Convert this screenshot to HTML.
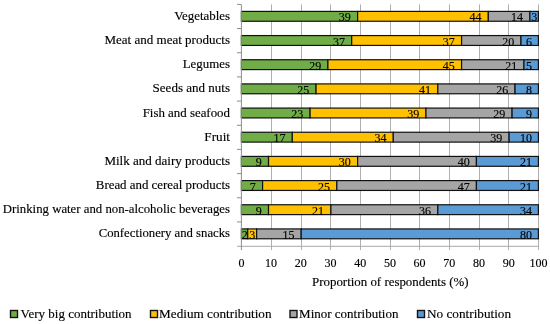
<!DOCTYPE html><html><head><meta charset="utf-8"><style>html,body{margin:0;padding:0;background:#fff;width:550px;height:324px;overflow:hidden}svg{display:block;will-change:transform}text{font-family:"Liberation Serif",serif;fill:#000;stroke:#000;stroke-width:0.15px}</style></head><body>
<svg width="550" height="324" viewBox="0 0 550 324">
<line x1="271.5" y1="4.4" x2="271.5" y2="250" stroke="#b0b0b0" stroke-width="1"/>
<line x1="301.5" y1="4.4" x2="301.5" y2="250" stroke="#b0b0b0" stroke-width="1"/>
<line x1="330.5" y1="4.4" x2="330.5" y2="250" stroke="#b0b0b0" stroke-width="1"/>
<line x1="360.5" y1="4.4" x2="360.5" y2="250" stroke="#b0b0b0" stroke-width="1"/>
<line x1="390.5" y1="4.4" x2="390.5" y2="250" stroke="#b0b0b0" stroke-width="1"/>
<line x1="419.5" y1="4.4" x2="419.5" y2="250" stroke="#b0b0b0" stroke-width="1"/>
<line x1="449.5" y1="4.4" x2="449.5" y2="250" stroke="#b0b0b0" stroke-width="1"/>
<line x1="479.5" y1="4.4" x2="479.5" y2="250" stroke="#b0b0b0" stroke-width="1"/>
<line x1="508.5" y1="4.4" x2="508.5" y2="250" stroke="#b0b0b0" stroke-width="1"/>
<line x1="538.5" y1="4.4" x2="538.5" y2="250" stroke="#b0b0b0" stroke-width="1"/>
<line x1="237" y1="246.3" x2="539" y2="246.3" stroke="#a8a8a8" stroke-width="1"/>
<line x1="237" y1="4.4" x2="241" y2="4.4" stroke="#8c8c8c" stroke-width="1"/>
<line x1="237" y1="28.57" x2="241" y2="28.57" stroke="#8c8c8c" stroke-width="1"/>
<line x1="237" y1="52.74" x2="241" y2="52.74" stroke="#8c8c8c" stroke-width="1"/>
<line x1="237" y1="76.91" x2="241" y2="76.91" stroke="#8c8c8c" stroke-width="1"/>
<line x1="237" y1="101.08" x2="241" y2="101.08" stroke="#8c8c8c" stroke-width="1"/>
<line x1="237" y1="125.25" x2="241" y2="125.25" stroke="#8c8c8c" stroke-width="1"/>
<line x1="237" y1="149.42" x2="241" y2="149.42" stroke="#8c8c8c" stroke-width="1"/>
<line x1="237" y1="173.59" x2="241" y2="173.59" stroke="#8c8c8c" stroke-width="1"/>
<line x1="237" y1="197.76" x2="241" y2="197.76" stroke="#8c8c8c" stroke-width="1"/>
<line x1="237" y1="221.93" x2="241" y2="221.93" stroke="#8c8c8c" stroke-width="1"/>
<rect x="241.40" y="11.40" width="116.23" height="9.85" fill="#70ad47" stroke="#111" stroke-width="1.2"/>
<rect x="357.63" y="11.40" width="130.68" height="9.85" fill="#ffc000" stroke="#111" stroke-width="1.2"/>
<rect x="488.31" y="11.40" width="41.58" height="9.85" fill="#a5a5a5" stroke="#111" stroke-width="1.2"/>
<rect x="529.89" y="11.40" width="8.51" height="9.85" fill="#5b9bd5" stroke="#111" stroke-width="1.2"/>
<rect x="241.40" y="35.57" width="110.29" height="9.85" fill="#70ad47" stroke="#111" stroke-width="1.2"/>
<rect x="351.69" y="35.57" width="109.89" height="9.85" fill="#ffc000" stroke="#111" stroke-width="1.2"/>
<rect x="461.58" y="35.57" width="59.40" height="9.85" fill="#a5a5a5" stroke="#111" stroke-width="1.2"/>
<rect x="520.98" y="35.57" width="17.42" height="9.85" fill="#5b9bd5" stroke="#111" stroke-width="1.2"/>
<rect x="241.40" y="59.74" width="86.53" height="9.85" fill="#70ad47" stroke="#111" stroke-width="1.2"/>
<rect x="327.93" y="59.74" width="133.65" height="9.85" fill="#ffc000" stroke="#111" stroke-width="1.2"/>
<rect x="461.58" y="59.74" width="62.37" height="9.85" fill="#a5a5a5" stroke="#111" stroke-width="1.2"/>
<rect x="523.95" y="59.74" width="14.45" height="9.85" fill="#5b9bd5" stroke="#111" stroke-width="1.2"/>
<rect x="241.40" y="83.91" width="74.65" height="9.85" fill="#70ad47" stroke="#111" stroke-width="1.2"/>
<rect x="316.05" y="83.91" width="121.77" height="9.85" fill="#ffc000" stroke="#111" stroke-width="1.2"/>
<rect x="437.82" y="83.91" width="77.22" height="9.85" fill="#a5a5a5" stroke="#111" stroke-width="1.2"/>
<rect x="515.04" y="83.91" width="23.36" height="9.85" fill="#5b9bd5" stroke="#111" stroke-width="1.2"/>
<rect x="241.40" y="108.08" width="68.71" height="9.85" fill="#70ad47" stroke="#111" stroke-width="1.2"/>
<rect x="310.11" y="108.08" width="115.83" height="9.85" fill="#ffc000" stroke="#111" stroke-width="1.2"/>
<rect x="425.94" y="108.08" width="86.13" height="9.85" fill="#a5a5a5" stroke="#111" stroke-width="1.2"/>
<rect x="512.07" y="108.08" width="26.33" height="9.85" fill="#5b9bd5" stroke="#111" stroke-width="1.2"/>
<rect x="241.40" y="132.25" width="50.89" height="9.85" fill="#70ad47" stroke="#111" stroke-width="1.2"/>
<rect x="292.29" y="132.25" width="100.98" height="9.85" fill="#ffc000" stroke="#111" stroke-width="1.2"/>
<rect x="393.27" y="132.25" width="115.83" height="9.85" fill="#a5a5a5" stroke="#111" stroke-width="1.2"/>
<rect x="509.10" y="132.25" width="29.30" height="9.85" fill="#5b9bd5" stroke="#111" stroke-width="1.2"/>
<rect x="241.40" y="156.42" width="27.13" height="9.85" fill="#70ad47" stroke="#111" stroke-width="1.2"/>
<rect x="268.53" y="156.42" width="89.10" height="9.85" fill="#ffc000" stroke="#111" stroke-width="1.2"/>
<rect x="357.63" y="156.42" width="118.80" height="9.85" fill="#a5a5a5" stroke="#111" stroke-width="1.2"/>
<rect x="476.43" y="156.42" width="61.97" height="9.85" fill="#5b9bd5" stroke="#111" stroke-width="1.2"/>
<rect x="241.40" y="180.59" width="21.19" height="9.85" fill="#70ad47" stroke="#111" stroke-width="1.2"/>
<rect x="262.59" y="180.59" width="74.25" height="9.85" fill="#ffc000" stroke="#111" stroke-width="1.2"/>
<rect x="336.84" y="180.59" width="139.59" height="9.85" fill="#a5a5a5" stroke="#111" stroke-width="1.2"/>
<rect x="476.43" y="180.59" width="61.97" height="9.85" fill="#5b9bd5" stroke="#111" stroke-width="1.2"/>
<rect x="241.40" y="204.76" width="27.13" height="9.85" fill="#70ad47" stroke="#111" stroke-width="1.2"/>
<rect x="268.53" y="204.76" width="62.37" height="9.85" fill="#ffc000" stroke="#111" stroke-width="1.2"/>
<rect x="330.90" y="204.76" width="106.92" height="9.85" fill="#a5a5a5" stroke="#111" stroke-width="1.2"/>
<rect x="437.82" y="204.76" width="100.58" height="9.85" fill="#5b9bd5" stroke="#111" stroke-width="1.2"/>
<rect x="241.40" y="228.93" width="6.34" height="9.85" fill="#70ad47" stroke="#111" stroke-width="1.2"/>
<rect x="247.74" y="228.93" width="8.91" height="9.85" fill="#ffc000" stroke="#111" stroke-width="1.2"/>
<rect x="256.65" y="228.93" width="44.55" height="9.85" fill="#a5a5a5" stroke="#111" stroke-width="1.2"/>
<rect x="301.20" y="228.93" width="237.20" height="9.85" fill="#5b9bd5" stroke="#111" stroke-width="1.2"/>
<line x1="241.4" y1="4.4" x2="241.4" y2="250" stroke="#8f8f8f" stroke-width="1"/>
<text x="350.83" y="21.40" font-size="12" text-anchor="end">39</text>
<text x="481.51" y="21.40" font-size="12" text-anchor="end">44</text>
<text x="523.09" y="21.40" font-size="12" text-anchor="end">14</text>
<text x="534.35" y="21.40" font-size="12" text-anchor="middle">3</text>
<text x="344.89" y="45.57" font-size="12" text-anchor="end">37</text>
<text x="454.78" y="45.57" font-size="12" text-anchor="end">37</text>
<text x="514.18" y="45.57" font-size="12" text-anchor="end">20</text>
<text x="532.00" y="45.57" font-size="12" text-anchor="end">6</text>
<text x="321.13" y="69.74" font-size="12" text-anchor="end">29</text>
<text x="454.78" y="69.74" font-size="12" text-anchor="end">45</text>
<text x="517.15" y="69.74" font-size="12" text-anchor="end">21</text>
<text x="532.00" y="69.74" font-size="12" text-anchor="end">5</text>
<text x="309.25" y="93.91" font-size="12" text-anchor="end">25</text>
<text x="431.02" y="93.91" font-size="12" text-anchor="end">41</text>
<text x="508.24" y="93.91" font-size="12" text-anchor="end">26</text>
<text x="532.00" y="93.91" font-size="12" text-anchor="end">8</text>
<text x="303.31" y="118.08" font-size="12" text-anchor="end">23</text>
<text x="419.14" y="118.08" font-size="12" text-anchor="end">39</text>
<text x="505.27" y="118.08" font-size="12" text-anchor="end">29</text>
<text x="532.00" y="118.08" font-size="12" text-anchor="end">9</text>
<text x="285.49" y="142.25" font-size="12" text-anchor="end">17</text>
<text x="386.47" y="142.25" font-size="12" text-anchor="end">34</text>
<text x="502.30" y="142.25" font-size="12" text-anchor="end">39</text>
<text x="532.00" y="142.25" font-size="12" text-anchor="end">10</text>
<text x="261.73" y="166.42" font-size="12" text-anchor="end">9</text>
<text x="350.83" y="166.42" font-size="12" text-anchor="end">30</text>
<text x="469.63" y="166.42" font-size="12" text-anchor="end">40</text>
<text x="532.00" y="166.42" font-size="12" text-anchor="end">21</text>
<text x="255.79" y="190.59" font-size="12" text-anchor="end">7</text>
<text x="330.04" y="190.59" font-size="12" text-anchor="end">25</text>
<text x="469.63" y="190.59" font-size="12" text-anchor="end">47</text>
<text x="532.00" y="190.59" font-size="12" text-anchor="end">21</text>
<text x="261.73" y="214.76" font-size="12" text-anchor="end">9</text>
<text x="324.10" y="214.76" font-size="12" text-anchor="end">21</text>
<text x="431.02" y="214.76" font-size="12" text-anchor="end">36</text>
<text x="532.00" y="214.76" font-size="12" text-anchor="end">34</text>
<text x="244.77" y="238.93" font-size="12" text-anchor="middle">2</text>
<text x="252.19" y="238.93" font-size="12" text-anchor="middle">3</text>
<text x="294.40" y="238.93" font-size="12" text-anchor="end">15</text>
<text x="532.00" y="238.93" font-size="12" text-anchor="end">80</text>
<text x="230" y="19.90" font-size="12.9" text-anchor="end">Vegetables</text>
<text x="230" y="44.07" font-size="12.9" text-anchor="end" textLength="125.6" lengthAdjust="spacingAndGlyphs">Meat and meat products</text>
<text x="230" y="68.24" font-size="12.9" text-anchor="end">Legumes</text>
<text x="230" y="92.41" font-size="12.9" text-anchor="end" textLength="77.4" lengthAdjust="spacingAndGlyphs">Seeds and nuts</text>
<text x="230" y="116.58" font-size="12.9" text-anchor="end">Fish and seafood</text>
<text x="230" y="140.75" font-size="12.9" text-anchor="end" textLength="25.7" lengthAdjust="spacingAndGlyphs">Fruit</text>
<text x="230" y="164.92" font-size="12.9" text-anchor="end" textLength="125.6" lengthAdjust="spacingAndGlyphs">Milk and dairy products</text>
<text x="230" y="189.09" font-size="12.9" text-anchor="end">Bread and cereal products</text>
<text x="230" y="213.26" font-size="12.9" text-anchor="end" textLength="227.2" lengthAdjust="spacingAndGlyphs">Drinking water and non-alcoholic beverages</text>
<text x="230" y="237.43" font-size="12.9" text-anchor="end" textLength="131.3" lengthAdjust="spacingAndGlyphs">Confectionery and snacks</text>
<text x="241.40" y="266.9" font-size="12" text-anchor="middle">0</text>
<text x="271.10" y="266.9" font-size="12" text-anchor="middle">10</text>
<text x="300.80" y="266.9" font-size="12" text-anchor="middle">20</text>
<text x="330.50" y="266.9" font-size="12" text-anchor="middle">30</text>
<text x="360.20" y="266.9" font-size="12" text-anchor="middle">40</text>
<text x="389.90" y="266.9" font-size="12" text-anchor="middle">50</text>
<text x="419.60" y="266.9" font-size="12" text-anchor="middle">60</text>
<text x="449.30" y="266.9" font-size="12" text-anchor="middle">70</text>
<text x="479.00" y="266.9" font-size="12" text-anchor="middle">80</text>
<text x="508.70" y="266.9" font-size="12" text-anchor="middle">90</text>
<text x="538.40" y="266.9" font-size="12" text-anchor="middle">100</text>
<text x="390.3" y="285.9" font-size="12.9" text-anchor="middle">Proportion of respondents (%)</text>
<rect x="10.5" y="310.5" width="7" height="7" fill="#70ad47" stroke="#141414" stroke-width="1.4"/>
<text x="20.60" y="318.2" font-size="12.9" textLength="111.0" lengthAdjust="spacingAndGlyphs">Very big contribution</text>
<rect x="150.5" y="310.5" width="7" height="7" fill="#ffc000" stroke="#141414" stroke-width="1.4"/>
<text x="159.10" y="318.2" font-size="12.9" textLength="112.4" lengthAdjust="spacingAndGlyphs">Medium contribution</text>
<rect x="290.0" y="310.5" width="7" height="7" fill="#a5a5a5" stroke="#141414" stroke-width="1.4"/>
<text x="299.10" y="318.2" font-size="12.9" textLength="99.3" lengthAdjust="spacingAndGlyphs">Minor contribution</text>
<rect x="417.5" y="310.5" width="7" height="7" fill="#5b9bd5" stroke="#141414" stroke-width="1.4"/>
<text x="427.00" y="318.2" font-size="12.9" textLength="84.1" lengthAdjust="spacingAndGlyphs">No contribution</text>
</svg></body></html>
